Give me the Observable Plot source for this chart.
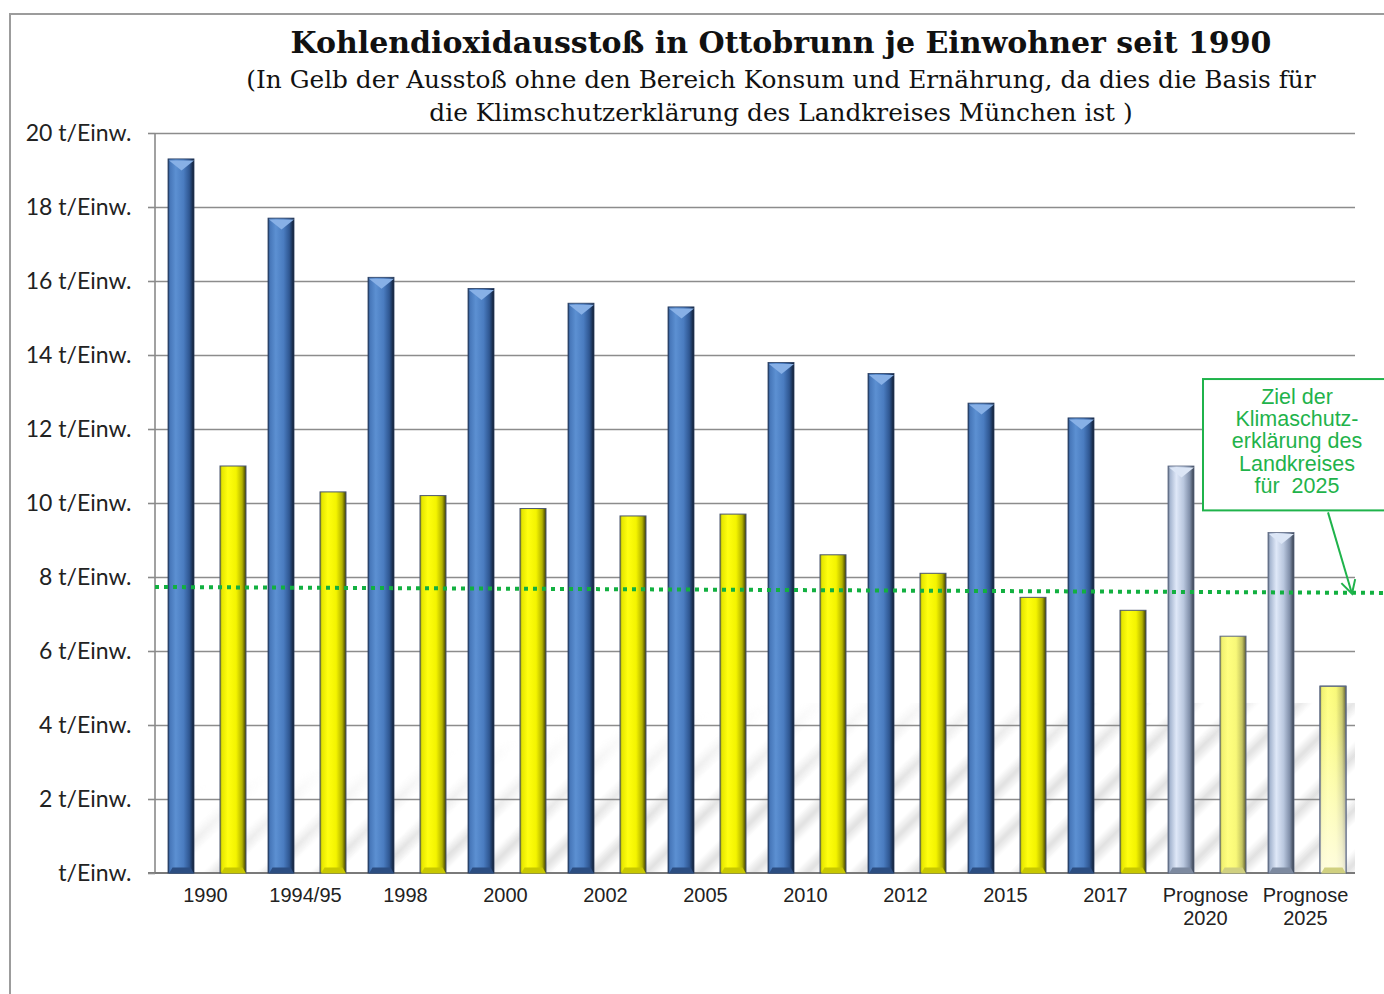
<!DOCTYPE html>
<html><head><meta charset="utf-8">
<script src="https://cdn.jsdelivr.net/npm/d3@7"></script>
<script src="https://cdn.jsdelivr.net/npm/@observablehq/plot@0.6"></script>
<style>
html,body{margin:0;padding:0;background:#fff;}
#wrap{position:relative;width:1384px;height:994px;overflow:hidden;background:#fff;}
#frame{position:absolute;left:9px;top:13px;width:1400px;height:1000px;border-left:2px solid #9c9c9c;border-top:2px solid #9c9c9c;}
#chart{position:absolute;left:0;top:0;}
.t{position:absolute;left:0;width:1562px;text-align:center;color:#111;font-family:"DejaVu Serif",serif;white-space:nowrap;}
#title{top:25px;font-size:30px;font-weight:bold;}
#sub1{top:65px;font-size:24.8px;}
#sub2{top:98px;font-size:24.8px;}
</style></head>
<body><div id="wrap"><div id="frame"></div><div id="chart"></div>
<div id="title" class="t">Kohlendioxidausstoß in Ottobrunn je Einwohner seit 1990</div>
<div id="sub1" class="t">(In Gelb der Ausstoß ohne den Bereich Konsum und Ernährung, da dies die Basis für</div>
<div id="sub2" class="t">die Klimschutzerklärung des Landkreises München ist )</div>
</div>
<script>
const categories = ["1990","1994/95","1998","2000","2002","2005","2010","2012","2015","2017","Prognose 2020","Prognose 2025"];
const gesamt = [19.3,17.7,16.1,15.8,15.4,15.3,13.8,13.5,12.7,12.3,11.0,9.2];
const ohneKonsum = [11.0,10.3,10.2,9.85,9.65,9.7,8.6,8.1,7.45,7.1,6.4,5.05];
const yTicks = [0,2,4,6,8,10,12,14,16,18,20];
const zielLinie = [7.73, 7.57];
const zielText = ["Ziel der","Klimaschutz-","erklärung des","Landkreises","für  2025"];
const zielBox = [13.35, 9.8];

const rows = categories.map((c,i)=>({cat:c, gesamt:gesamt[i], ohne:ohneKonsum[i], prognose:c.startsWith("Prognose")}));
const NS = "http://www.w3.org/2000/svg";
function el(tag, attrs, parent){const e=document.createElementNS(NS,tag);for(const k in attrs)e.setAttribute(k,attrs[k]);if(parent)parent.appendChild(e);return e;}
function hgrad(defs,id,stops){const g=el("linearGradient",{id,x1:"0",y1:"0",x2:"1",y2:"0"},defs);stops.forEach(([o,c,a])=>el("stop",{offset:o,"stop-color":c,"stop-opacity":a==null?1:a},g));}

function defsMark(){
  const g=el("g",{});const defs=el("defs",{},g);
  hgrad(defs,"gBlue",[["0","#1d3558"],["0.07","#4676b8"],["0.3","#5c90d2"],["0.6","#4a7cc0"],["0.82","#2f5792"],["1","#101c30"]]);
  hgrad(defs,"gBlueP",[["0","#5a667c"],["0.08","#a6b6d0"],["0.32","#dfe8f8"],["0.6","#b9c7de"],["0.84","#7f8ea8"],["1","#343c4a"]]);
  hgrad(defs,"gYellow",[["0","#7c7c10"],["0.07","#e6e600"],["0.3","#ffff10"],["0.62","#f4f400"],["0.85","#b4b400"],["1","#3c3c00"]]);
  hgrad(defs,"gYellowP",[["0","#8c8c40"],["0.07","#f0f070"],["0.3","#ffff80"],["0.62","#f8f878"],["0.85","#c4c460"],["1","#5c5c30"]]);
  const v=el("linearGradient",{id:"gFade",x1:"0",y1:"0",x2:"0",y2:"1"},defs);
  el("stop",{offset:"0","stop-color":"#fff","stop-opacity":"0"},v);
  el("stop",{offset:"0.25","stop-color":"#fff","stop-opacity":"0.15"},v);
  el("stop",{offset:"1","stop-color":"#fffdf0","stop-opacity":"0.85"},v);
  const p=el("pattern",{id:"stripes",patternUnits:"userSpaceOnUse",width:"38",height:"38",patternTransform:"rotate(45)"},defs);
  const sg=el("linearGradient",{id:"gStripe",x1:"0",y1:"0",x2:"1",y2:"0"},defs);
  el("stop",{offset:"0","stop-color":"#c8c8c8","stop-opacity":"0"},sg);
  el("stop",{offset:"0.5","stop-color":"#c8c8c8","stop-opacity":"1"},sg);
  el("stop",{offset:"1","stop-color":"#c8c8c8","stop-opacity":"0"},sg);
  el("rect",{x:0,y:0,width:20,height:38,fill:"url(#gStripe)"},p);
  const m=el("linearGradient",{id:"gMaskG",x1:"0",y1:"0",x2:"1",y2:"1"},defs);
  el("stop",{offset:"0","stop-color":"#000"},m);
  el("stop",{offset:"0.25","stop-color":"#000"},m);
  el("stop",{offset:"0.55","stop-color":"#fff"},m);
  el("stop",{offset:"1","stop-color":"#fff"},m);
  const mask=el("mask",{id:"floorMask",maskContentUnits:"objectBoundingBox"},defs);
  el("rect",{x:0,y:0,width:1,height:1,fill:"url(#gMaskG)"},mask);
  return g;
}
function floorMark(index, scales, values, dims){
  const {y}=scales;const g=el("g",{});
  el("rect",{x:dims.marginLeft+20,y:y(4.6),width:dims.width-dims.marginRight-dims.marginLeft-20,height:y(0)-y(4.6),fill:"url(#stripes)",mask:"url(#floorMask)",opacity:0.55},g);
  return g;
}
function axisLines(index, scales, values, dims){
  const {y}=scales;const g=el("g",{});
  el("line",{x1:dims.marginLeft,x2:dims.marginLeft,y1:y(20),y2:y(0),stroke:"#8a8a8a","stroke-width":1.6},g);
  el("line",{x1:dims.marginLeft-7,x2:dims.width-dims.marginRight,y1:y(0),y2:y(0),stroke:"#7a7a7a","stroke-width":2},g);
  return g;
}
function zielMark(index, scales, values, dims){
  const {x,y}=scales;const g=el("g",{});
  const col="#1fb34b";
  el("line",{x1:dims.marginLeft,x2:dims.width,y1:y(zielLinie[0]),y2:y(zielLinie[1]),stroke:"#12b040","stroke-width":4,"stroke-dasharray":"4 5"},g);
  const bx=x("Prognose 2020")+48, by=y(zielBox[0]), bh=y(zielBox[1])-y(zielBox[0]);
  el("rect",{x:bx,y:by,width:190,height:bh,fill:"#fff",stroke:col,"stroke-width":2},g);
  const cx=bx+94;
  zielText.forEach((t,i)=>{const tx=el("text",{x:cx,y:by+25+i*22.2,"text-anchor":"middle","font-family":"Liberation Sans, Arial, sans-serif","font-size":21.5,fill:col},g);tx.textContent=t;tx.setAttribute("xml:space","preserve");});
  const x0=x("Prognose 2025")+73, y0=by+bh+2, x1=x("Prognose 2025")+97;
  const frac=(x1-dims.marginLeft)/(dims.width-dims.marginLeft);
  const y1=y(zielLinie[0]+(zielLinie[1]-zielLinie[0])*frac)+1;
  el("line",{x1:x0,y1:y0,x2:x1,y2:y1,stroke:col,"stroke-width":2},g);
  const ang=Math.atan2(y1-y0,x1-x0);
  const L=15,a=0.5;
  el("polyline",{points:`${x1-L*Math.cos(ang-a)},${y1-L*Math.sin(ang-a)} ${x1},${y1} ${x1-L*Math.cos(ang+a)},${y1-L*Math.sin(ang+a)}`,fill:"none",stroke:col,"stroke-width":2},g);
  return g;
}
const capSymbol={draw(ctx){ctx.moveTo(-12.5,0);ctx.lineTo(12.5,0);ctx.lineTo(0,10);ctx.closePath();}};
const botSymbol={draw(ctx){ctx.moveTo(-12.5,0);ctx.lineTo(12.5,0);ctx.lineTo(9,-6);ctx.lineTo(-9,-6);ctx.closePath();}};

const blueIn={insetLeft:13,insetRight:61}, yellowIn={insetLeft:65,insetRight:9};
const plot = Plot.plot({
  width:1384, height:994,
  marginTop:133, marginBottom:121, marginLeft:155, marginRight:29,
  style:{background:"transparent", fontFamily:"Liberation Sans, Arial, sans-serif"},
  x:{domain:categories, padding:0, axis:null},
  y:{domain:[0,20], axis:null},
  marks:[
    defsMark,
    floorMark,
    Plot.ruleY(yTicks.filter(d=>d>0),{stroke:"#8c8c8c",strokeWidth:1.6}),
    axisLines,
    Plot.barY(rows.filter(d=>!d.prognose),{x:"cat",y:"gesamt",fill:"url(#gBlue)",stroke:"#2a3e60",strokeWidth:0.8,...blueIn}),
    Plot.barY(rows.filter(d=>d.prognose),{x:"cat",y:"gesamt",fill:"url(#gBlueP)",stroke:"#5a6680",strokeWidth:0.8,...blueIn}),
    Plot.barY(rows.filter(d=>!d.prognose),{x:"cat",y:"ohne",fill:"url(#gYellow)",stroke:"#4a5670",strokeWidth:1,...yellowIn}),
    Plot.barY(rows.filter(d=>d.prognose),{x:"cat",y:"ohne",fill:"url(#gYellowP)",stroke:"#5a6680",strokeWidth:1,...yellowIn}),
    Plot.barY(rows.filter(d=>d.cat==="Prognose 2025"),{x:"cat",y:"ohne",fill:"url(#gFade)",...yellowIn}),
    Plot.barY(rows.filter(d=>d.cat==="Prognose 2025"),{x:"cat",y:"ohne",fill:"url(#gYellow)",fillOpacity:0,stroke:"#5a6680",strokeWidth:1,...yellowIn}),
    Plot.dot(rows,{x:"cat",y:"gesamt",symbol:capSymbol,r:5,dx:-24,dy:1,fill:d=>d.prognose?"#dce6f6":"#87b0e6",stroke:"none"}),
    Plot.dot(rows,{x:"cat",y:0,symbol:botSymbol,r:5,dx:-24,dy:0,fill:d=>d.prognose?"#7d8aa0":"#2c4e82",stroke:"none"}),
    Plot.dot(rows,{x:"cat",y:0,symbol:botSymbol,r:5,dx:28,dy:0,fill:d=>d.prognose?"#d0d080":"#c8c800",stroke:"none"}),
    zielMark,
    Plot.axisY(yTicks,{tickFormat:d=>d===0?"t/Einw.":`${d} t/Einw.`,tickSize:7,tickPadding:17,fontSize:23,fontFamily:"Lato, 'Open Sans', sans-serif",stroke:"#8a8a8a",fill:"#222",strokeWidth:1.6,label:null}),
    Plot.axisX({tickSize:0,tickPadding:12,fontSize:20,fill:"#222",lineHeight:1.15,label:null,tickFormat:d=>d.replace("Prognose ","Prognose\n")})
  ]
});
document.getElementById("chart").appendChild(plot);
</script></body></html>
